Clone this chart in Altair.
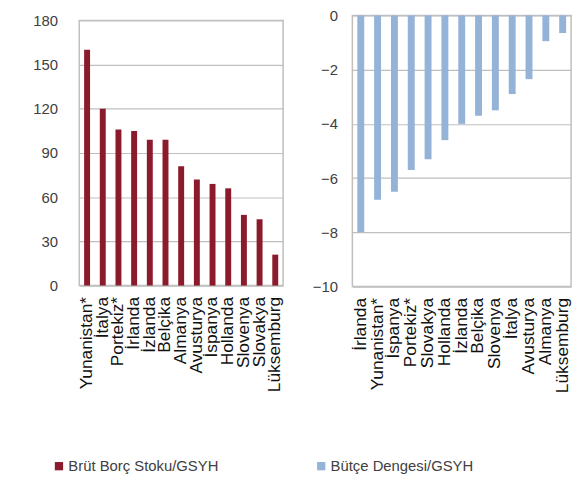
import altair as alt
import pandas as pd

debt_countries = ["Yunanistan*", "İtalya", "Portekiz*", "İrlanda", "İzlanda", "Belçika", "Almanya",
                  "Avusturya", "İspanya", "Hollanda", "Slovenya", "Slovakya", "Lüksemburg"]
debt_values = [160, 120, 106, 105, 99, 99, 81, 72, 69, 66, 48, 45, 21]
debt_series = "Brüt Borç Stoku/GSYH"

bal_countries = ["İrlanda", "Yunanistan*", "İspanya", "Portekiz*", "Slovakya", "Hollanda", "İzlanda",
                 "Belçika", "Slovenya", "İtalya", "Avusturya", "Almanya", "Lüksemburg"]
bal_values = [-8.0, -6.8, -6.5, -5.7, -5.3, -4.6, -4.0, -3.7, -3.5, -2.9, -2.35, -0.95, -0.65]
bal_series = "Bütçe Dengesi/GSYH"

left_ticks = [0, 30, 60, 90, 120, 150, 180]
right_ticks = [0, -2, -4, -6, -8, -10]

RED = "#8B1A2C"
BLUE = "#95B3D7"
FONT = "Liberation Sans"

df1 = pd.DataFrame({"country": debt_countries, "value": debt_values, "series": debt_series})
df2 = pd.DataFrame({"country": bal_countries, "value": bal_values, "series": bal_series})

xaxis = dict(title=None, labelAngle=-90, labelAlign="right", labelBaseline="middle",
             labelFontSize=17.5, labelColor="#111111", labelFont=FONT, ticks=False,
             domain=False, labelPadding=11, grid=False, labelOverlap=False)

left = alt.Chart(df1).mark_bar(size=6).encode(
    x=alt.X("country:N", sort=debt_countries, axis=alt.Axis(**xaxis),
            scale=alt.Scale(paddingInner=0.6, paddingOuter=0.3)),
    y=alt.Y("value:Q", scale=alt.Scale(domain=[0, 180], nice=False),
            axis=alt.Axis(title=None, values=left_ticks, ticks=False, domain=False,
                          labelPadding=22, labelFontSize=15, labelColor="#404040",
                          labelFont=FONT, gridColor="#BFBFBF", gridWidth=1.2)),
    color=alt.Color("series:N", scale=alt.Scale(domain=[debt_series], range=[RED]),
                    legend=alt.Legend(title=None, orient="none", legendX=-28, legendY=448,
                                      symbolType="square", symbolSize=70, symbolStrokeWidth=0,
                                      labelFontSize=15, labelFont=FONT, labelColor="#404040",
                                      labelOffset=2)),
).properties(width=206, height=268)

spacer = alt.Chart(df1).mark_point(opacity=0).encode(
    x=alt.value(0), y=alt.value(0)
).properties(width=206, height=1, view=alt.ViewBackground(stroke="transparent"))

left_col = alt.vconcat(spacer, left, spacing=-7)

right = alt.Chart(df2).mark_bar(size=7).encode(
    x=alt.X("country:N", sort=bal_countries, axis=alt.Axis(**xaxis),
            scale=alt.Scale(paddingInner=0.6, paddingOuter=0.3)),
    y=alt.Y("value:Q", scale=alt.Scale(domain=[-10, 0], nice=False),
            axis=alt.Axis(title=None, values=right_ticks, ticks=False, domain=False,
                          labelPadding=15, labelFontSize=15, labelColor="#404040",
                          labelFont=FONT, gridColor="#BFBFBF", gridWidth=1.2)),
    color=alt.Color("series:N", scale=alt.Scale(domain=[bal_series], range=[BLUE]),
                    legend=alt.Legend(title=None, orient="none", legendX=-39, legendY=448,
                                      symbolType="square", symbolSize=70, symbolStrokeWidth=0,
                                      labelFontSize=15, labelFont=FONT, labelColor="#404040",
                                      labelOffset=2)),
).properties(width=221, height=274)

chart = alt.hconcat(left_col, right, spacing=27).resolve_scale(color="independent").configure_view(
    stroke="#BFBFBF", strokeWidth=1.5
).properties(padding={"left": 24, "top": -3, "right": 5, "bottom": 5}, background="white")

chart.save("out.html", embed_options={"renderer": "svg", "actions": False})
